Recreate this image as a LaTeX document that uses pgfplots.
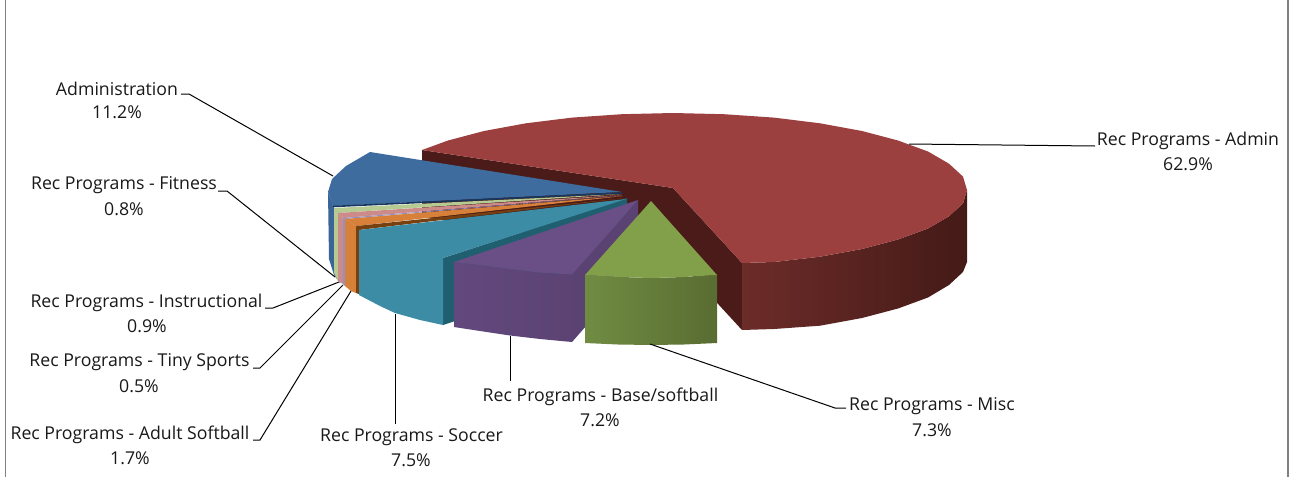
\documentclass[border=0pt]{standalone}
\usepackage{pgfplots}
\usepackage{fontspec}
\setmainfont{Open Sans}
\pgfplotsset{compat=1.18}
\definecolor{redtop}{HTML}{9B403E}
\definecolor{redwall}{HTML}{4A1B18}
\definecolor{bluetop}{HTML}{3F6C9F}
\definecolor{bluewall}{HTML}{3A6596}
\definecolor{navy}{HTML}{17375E}
\definecolor{lgreen}{HTML}{B5CB92}
\definecolor{lpink}{HTML}{CC8B88}
\definecolor{lav}{HTML}{9490C4}
\definecolor{orng}{HTML}{D6803A}
\definecolor{brwn}{HTML}{79400F}
\definecolor{tealtop}{HTML}{3D8CA5}
\definecolor{tealdark}{HTML}{205F70}
\definecolor{purtop}{HTML}{6A4F86}
\definecolor{purside}{HTML}{5A4273}
\definecolor{grntop}{HTML}{82A04A}
\pgfplotsset{poly/.style={no markers,draw=none,fill=#1},
  lead/.style={no markers,black,line width=1pt}}
\newcommand{\lab}[3]{\node[font=\fontsize{17.7}{20}\selectfont,text=black!90,inner sep=0pt] at (axis cs:#1,#2) {#3};}
\begin{document}
\begin{tikzpicture}
\begin{axis}[scale only axis,width=1291pt,height=477pt,xmin=0,xmax=1291,ymin=0,ymax=477,y dir=reverse,hide axis,clip=true]
\addplot[poly=white] coordinates {(0,0)(1291,0)(1291,477)(0,477)} --cycle;
% frame
\addplot[no markers,color=black!50,line width=1.3pt] coordinates {(5.5,0)(5.5,477)};
\addplot[no markers,color=black!50,line width=1.3pt] coordinates {(1288,0)(1288,477)};
% red inner walls
\addplot[poly=redwall] coordinates {(422,150)(673,188)(673,255)(422,217)} --cycle;
\addplot[poly=redwall] coordinates {(673,188)(742,263)(742,330)(673,255)} --cycle;
% red outer wall
\addplot[no markers,draw=none,shading=axis,left color={rgb,255:red,108;green,44;blue,41},middle color={rgb,255:red,68;green,26;blue,23},right color={rgb,255:red,68;green,26;blue,23}] coordinates {(742,263)(774,262)(820,256.7)(862,249)(898,239.5)(928,228.5)(949,216.3)(963,203.4)(967,190)(967,262)(963,272)(949,285)(928,297.5)(898,308.5)(862,318)(820,325.7)(774,329)(742,330)} --cycle;
% red top
\addplot[poly=redtop] coordinates {(673,188)(422,150)(448,140.5)(484,131)(526,123.3)(572,117.6)(622,114.2)(673,113)(724,114.2)(774,117.6)(820,123.3)(862,131)(898,140.5)(928,151.5)(949,163.7)(963,176.6)(967,190)(963,203.4)(949,216.3)(928,228.5)(898,239.5)(862,249)(820,256.7)(774,262)(742,263)} --cycle;
% blue
\addplot[poly=bluewall] coordinates {(328,192)(334,208)(340,216)(340,283)(334,275)(329,259)} --cycle;
\addplot[poly=bluetop] coordinates {(622,192)(370,152)(346,166)(332,179)(328,192)(333,206)} --cycle;
\addplot[no markers,navy,line width=1.6pt] coordinates {(333,206.5)(622,193)};
% thin slices, walls
\addplot[poly=lgreen] coordinates {(334,208)(338,213)(338,281)(334,273)} --cycle;
\addplot[poly=lpink] coordinates {(338,213)(343,218)(343,284)(338,281)} --cycle;
\addplot[poly=lav] coordinates {(343,218)(345,219)(345,286)(343,284)} --cycle;
\addplot[poly=orng] coordinates {(345,219)(356,226)(356,293)(351,291)(345,286)} --cycle;
\addplot[poly=brwn] coordinates {(356,226)(359,228)(359,294)(356,293)} --cycle;
% thin slices, tops
\addplot[poly=lgreen] coordinates {(622,194)(334,208)(338,213)} --cycle;
\addplot[poly=lpink] coordinates {(622,195)(338,213)(343,218)} --cycle;
\addplot[poly=lav] coordinates {(622,195.5)(343,218)(345,219)} --cycle;
\addplot[poly=orng] coordinates {(623,196)(345,219)(356,226)} --cycle;
\addplot[poly=brwn] coordinates {(625,198)(356,226)(359,230)} --cycle;
% teal: top and front wall share one colour, with no seam
\addplot[poly=tealdark] coordinates {(443,258)(627,198)(627,265)(443,325)} --cycle;
\addplot[poly=tealtop] coordinates {(626,199)(359,230)(359,295)(380,306)(395,313)(420,320)(443,325)(443,258)} --cycle;
% purple
\addplot[poly=purside] coordinates {(572,274)(638,200)(638,267)(572,342)} --cycle;
\addplot[no markers,draw=none,shading=axis,left color={rgb,255:red,98;green,72;blue,125},right color={rgb,255:red,92;green,67;blue,116}] coordinates {(454,262)(480,265)(510,269)(540,272.6)(572,274.5)(572,342)(540,339)(510,335.5)(480,331)(454,327)} --cycle;
\addplot[poly=purtop] coordinates {(638,200)(454,262)(480,265)(510,269)(540,272.6)(572,274.5)} --cycle;
% green
\addplot[no markers,draw=none,shading=axis,left color={rgb,255:red,112;green,140;blue,66},right color={rgb,255:red,89;green,108;blue,50}] coordinates {(585,275)(618,277)(651,278)(684,277)(717,275)(717,343)(684,344.5)(651,345)(618,344.5)(585,343)} --cycle;
\addplot[poly=grntop] coordinates {(651,201)(585,275)(618,277)(651,278)(684,277)(717,275)} --cycle;
% leaders
\addplot[lead] coordinates {(181,94)(189,94)(333,176)};
\addplot[lead] coordinates {(218,191)(227,191)(335,277)};
\addplot[lead] coordinates {(265,308)(273,308)(339,282)};
\addplot[lead] coordinates {(253,368)(260,368)(343,285)};
\addplot[lead] coordinates {(253,440)(260,440)(351,291)};
\addplot[lead] coordinates {(395,424)(395,314)};
\addplot[lead] coordinates {(510,381)(510,336)};
\addplot[lead] coordinates {(846,408)(835,408)(650,344)};
\addplot[lead] coordinates {(909,144)(1095,146)};
% labels
\lab{117}{88.5}{Administration}
\lab{117}{112}{11.2\%}
\lab{124}{185.5}{Rec Programs - Fitness}
\lab{124}{209}{0.8\%}
\lab{146.5}{302.5}{Rec Programs - Instructional}
\lab{147}{326}{0.9\%}
\lab{139.5}{362.5}{Rec Programs - Tiny Sports}
\lab{139}{386}{0.5\%}
\lab{130}{434.5}{Rec Programs - Adult Softball}
\lab{130}{458}{1.7\%}
\lab{411.5}{437.5}{Rec Programs - Soccer}
\lab{411}{460}{7.5\%}
\lab{600.5}{396.5}{Rec Programs - Base/softball}
\lab{600}{420}{7.2\%}
\lab{932}{406.5}{Rec Programs - Misc}
\lab{932}{430}{7.3\%}
\lab{1188}{140.5}{Rec Programs - Admin}
\lab{1188}{164}{62.9\%}
\end{axis}
\end{tikzpicture}
\end{document}
